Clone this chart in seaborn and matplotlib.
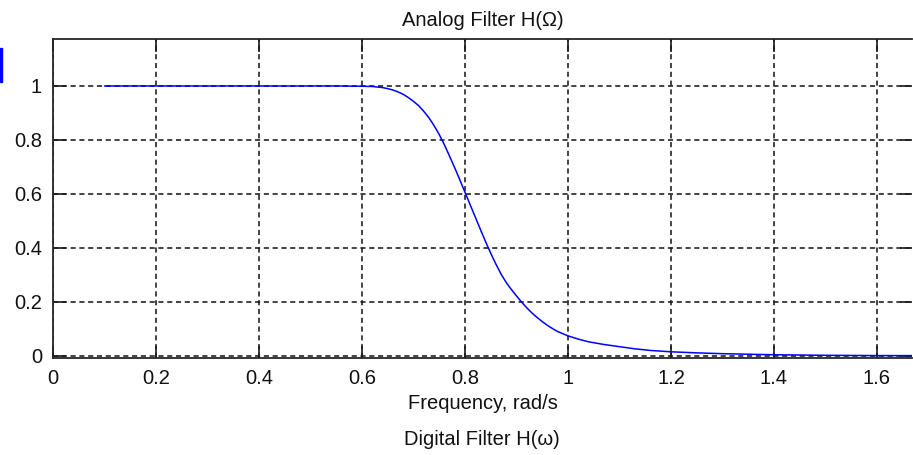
import matplotlib
matplotlib.use("Agg")
import matplotlib.pyplot as plt
from matplotlib.patches import Rectangle
import seaborn as sns
import pandas as pd

# Magnitude response of the analog prototype filter
freq = [0.10, 0.20, 0.30, 0.40, 0.50, 0.55, 0.60, 0.62, 0.64, 0.65, 0.66,
        0.67, 0.68, 0.69, 0.70, 0.71, 0.72, 0.73, 0.74, 0.75, 0.76, 0.77,
        0.78, 0.79, 0.80, 0.81, 0.82, 0.83, 0.84, 0.85, 0.86, 0.87, 0.88,
        0.89, 0.90, 0.91, 0.92, 0.93, 0.94, 0.95, 0.96, 0.97, 0.98, 1.00,
        1.02, 1.04, 1.07, 1.10, 1.13, 1.16, 1.20, 1.25, 1.30, 1.35, 1.40,
        1.50, 1.60, 1.70]
mag = [1.0, 1.0, 1.0, 1.0, 1.0, 1.0, 0.999, 0.998, 0.994, 0.990, 0.985,
       0.978, 0.969, 0.957, 0.943, 0.927, 0.906, 0.882, 0.853, 0.820, 0.782,
       0.740, 0.697, 0.652, 0.606, 0.560, 0.514, 0.468, 0.423, 0.380, 0.340,
       0.303, 0.272, 0.246, 0.222, 0.199, 0.178, 0.159, 0.142, 0.127, 0.113,
       0.101, 0.090, 0.074, 0.062, 0.052, 0.042, 0.034, 0.026, 0.020, 0.015,
       0.011, 0.008, 0.006, 0.004, 0.002, 0.001, 0.0007]

xticks = [0, 0.2, 0.4, 0.6, 0.8, 1.0, 1.2, 1.4, 1.6]
xticklabels = ["0", "0.2", "0.4", "0.6", "0.8", "1", "1.2", "1.4", "1.6"]
yticks = [0, 0.2, 0.4, 0.6, 0.8, 1.0]
yticklabels = ["0", "0.2", "0.4", "0.6", "0.8", "1"]

df = pd.DataFrame({"freq": freq, "mag": mag})

sns.set_style("white")
plt.rcParams["font.family"] = ["Liberation Sans", "DejaVu Sans"]

fs = 14.5
fig = plt.figure(figsize=(9.13, 4.55), dpi=100)
ax = fig.add_axes([53 / 913, 1 - 358 / 455, 859 / 913, 319 / 455])

sns.lineplot(data=df, x="freq", y="mag", ax=ax, color="#0000ff",
             linewidth=1.1, sort=False, estimator=None)

ax.set_xlim(0, 1.668)
ax.set_ylim(-0.008, 1.174)
ax.set_xticks(xticks)
ax.set_xticklabels(xticklabels)
ax.set_yticks(yticks)
ax.set_yticklabels(yticklabels)

ax.grid(True, color="#1a1a1a", linewidth=1.15, linestyle=(0, (3.2, 2.3)))
ax.tick_params(direction="in", length=9, width=1.2, color="#1a1a1a",
               labelsize=fs, labelcolor="#111111", top=True, right=True,
               bottom=True, left=True, pad=8)
for side, sp in ax.spines.items():
    sp.set_visible(True)
    sp.set_color("#262626")
    sp.set_linewidth(1.3)
ax.spines["right"].set_visible(False)

ax.set_title("Analog Filter H(Ω)", fontsize=fs, color="#111111", pad=9)
ax.set_xlabel("Frequency, rad/s", fontsize=fs, color="#111111", labelpad=4)
ax.set_ylabel("")

fig.text(482 / 913, 1 - 445 / 455, "Digital Filter H(ω)", fontsize=fs,
         color="#111111", ha="center", va="baseline")

fig.patches.append(Rectangle((0, 1 - 82 / 455), 2 / 913, 34 / 455,
                             transform=fig.transFigure, color="#0000ff"))

fig.savefig("out.png", dpi=100)
